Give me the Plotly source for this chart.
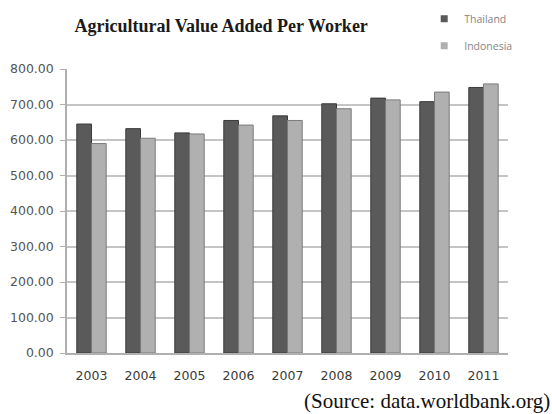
import plotly.graph_objects as go

years = ["2003", "2004", "2005", "2006", "2007", "2008", "2009", "2010", "2011"]
thailand = [645, 632, 620, 655, 668, 702, 718, 708, 748]
indonesia = [590, 605, 617, 642, 655, 688, 713, 735, 758]
y_ticks = [0, 100, 200, 300, 400, 500, 600, 700, 800]

c_thai = "#5a5a5a"
c_indo = "#b0b0b0"

fig = go.Figure()
fig.add_trace(go.Bar(x=years, y=thailand, name="Thailand", showlegend=False,
                     marker=dict(color=c_thai, line=dict(color="#3a3a3a", width=1))))
fig.add_trace(go.Bar(x=years, y=indonesia, name="Indonesia", showlegend=False,
                     marker=dict(color=c_indo, line=dict(color="#7a7a7a", width=1))))
# legend entries with small square swatches
fig.add_trace(go.Scatter(x=[None], y=[None], mode="markers", name="Thailand",
                         legendgroup="t", marker=dict(symbol="square", size=7, color=c_thai)))
fig.add_trace(go.Scatter(x=[None], y=[None], mode="markers", name="Indonesia",
                         legendgroup="i", marker=dict(symbol="square", size=7, color=c_indo)))

fig.update_layout(
    width=552, height=414,
    margin=dict(l=67, r=44, t=69, b=61, autoexpand=False),
    paper_bgcolor="white", plot_bgcolor="white",
    barmode="group", bargap=0.4, bargroupgap=0.0,
    showlegend=True,
    legend=dict(x=0.81, y=0.99, xref="paper", yref="container", xanchor="left", yanchor="top",
                font=dict(family="Open Sans, sans-serif", size=10.5, color="#858585"),
                itemwidth=30, itemsizing="trace", tracegroupgap=8,
                bgcolor="rgba(0,0,0,0)"),
    title=dict(text="<b>Agricultural Value Added Per Worker</b>",
               x=0.135, xanchor="left", y=0.937, yanchor="middle",
               font=dict(family="Liberation Serif, serif", size=18, color="#1a1a1a")),
    font=dict(family="DejaVu Sans, sans-serif", color="#555"),
)
fig.update_xaxes(type="category", showline=True, linecolor="#b0b0b0", linewidth=1.5,
                 ticks="", tickfont=dict(size=12.5, color="#3a3a3a"), ticklabelstandoff=10)
fig.update_yaxes(range=[0, 800], tickvals=y_ticks,
                 ticktext=[f"{v:.2f}" for v in y_ticks],
                 showline=True, linecolor="#b0b0b0", linewidth=1.5,
                 ticks="outside", ticklen=5, tickcolor="#b0b0b0",
                 showgrid=True, gridcolor="#c4c4c4", gridwidth=1.8,
                 ticklabelstandoff=4,
                 tickfont=dict(size=12.5, color="#555"))

fig.add_annotation(text="(Source: data.worldbank.org)", xref="paper", yref="paper",
                   x=1.1, y=-0.17, xanchor="right", yanchor="middle", showarrow=False,
                   font=dict(family="Liberation Serif, serif", size=21, color="#111"))

fig.write_html("out.html")
